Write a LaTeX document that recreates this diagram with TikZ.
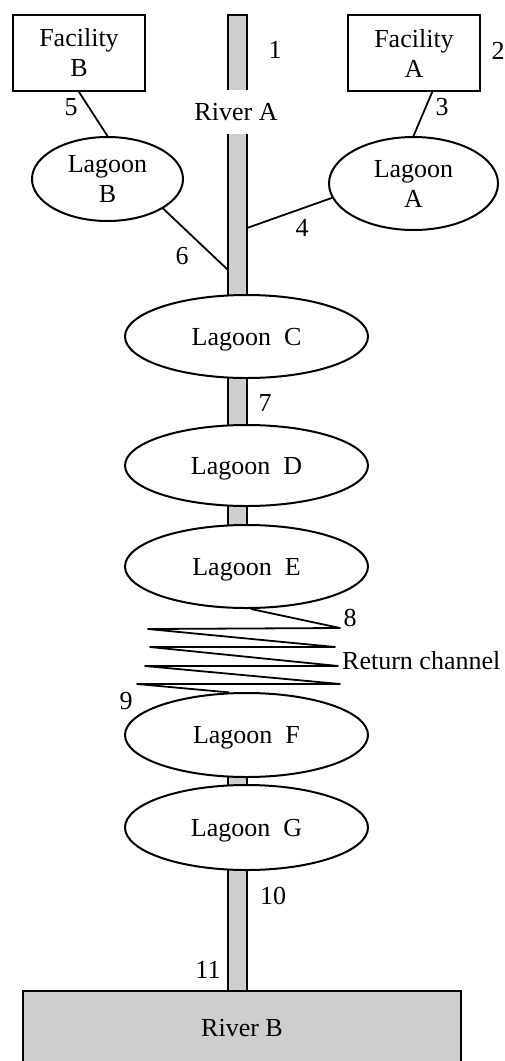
\documentclass[tikz,border=0pt]{standalone}
\usepackage{fontspec}
\setmainfont{Liberation Serif}
\usetikzlibrary{shapes.geometric}
\definecolor{riverfill}{RGB}{205,207,206}
\tikzset{
  facility/.style={draw, line width=2pt, minimum width=132pt, minimum height=76pt,
                   align=center, inner sep=0pt},
  lagoon/.style={draw, ellipse, fill=white, line width=2pt, inner sep=0pt,
                 align=center, text depth=0pt},
  strip/.style={line width=1.9pt, fill=riverfill},
  link/.style={line width=1.8pt},
  num/.style={inner sep=0pt},
}

\begin{document}
\begin{tikzpicture}[x=1pt, y=-1pt, font=\fontsize{26}{30}\selectfont]
\useasboundingbox (0,0) rectangle (504,1061);

\draw[strip] (228,15) rectangle (247,560);
\draw[strip] (228,760) rectangle (247,1000);
\node[fill=white, minimum height=44pt, inner sep=1pt] (rivA) at (236,112) {River A};

\node[facility] (facB) at (79,53)  {Facility\\B};
\node[facility] (facA) at (414,53) {Facility\\A};

\node[lagoon, minimum width=151pt, minimum height=84pt] (lagB) at (107.5,179)   {Lagoon\\B};
\node[lagoon, minimum width=169pt, minimum height=93pt] (lagA) at (413.5,183.5) {Lagoon\\A};
\node[lagoon, minimum width=243pt, minimum height=83pt] (lagC) at (246.5,336.5) {Lagoon\ \ C};
\node[lagoon, minimum width=243pt, minimum height=81pt] (lagD) at (246.5,465.5) {Lagoon\ \ D};
\node[lagoon, minimum width=243pt, minimum height=83pt] (lagE) at (246.5,566.5) {Lagoon\ \ E};
\node[lagoon, minimum width=243pt, minimum height=84pt] (lagF) at (246.5,735)   {Lagoon\ \ F};
\node[lagoon, minimum width=243pt, minimum height=85pt] (lagG) at (246.5,827.5) {Lagoon\ \ G};

\node[draw, line width=2pt, fill=riverfill, minimum width=438pt, minimum height=74pt]
  (rivB) at (242,1028) {River B};

\coordinate (j4) at (247,228);
\coordinate (j6) at (228,270);
\draw[link] (facB.south) -- (lagB.north);
\draw[link] (facA.-65) -- (lagA.north);
\draw[link] (lagA.190) -- (j4);
\draw[link] (lagB.-28) -- (j6);

\draw[link, line join=round] (lagE.-84) -- (340,628) -- (148,629) -- (335,647) -- (150,647)
  -- (338,666) -- (145,666) -- (340,684) -- (137,684) -- (lagF.112);

\node[num] (n1)  at (275,50)    {1};
\node[num] (n2)  at (498,51)    {2};
\node[num] (n3)  at (442,107.5) {3};
\node[num] (n4)  at (302,227.5) {4};
\node[num] (n5)  at (71,107)    {5};
\node[num] (n6)  at (182,256)   {6};
\node[num] (n7)  at (265,403)   {7};
\node[num] (n8)  at (350,618)   {8};
\node[num] (n9)  at (126,701)   {9};
\node[num] (n10) at (273,896)   {10};
\node[num] (n11) at (208,970)   {11};
\node[num, anchor=west] (ret) at (342,661) {Return channel};
\end{tikzpicture}
\end{document}
